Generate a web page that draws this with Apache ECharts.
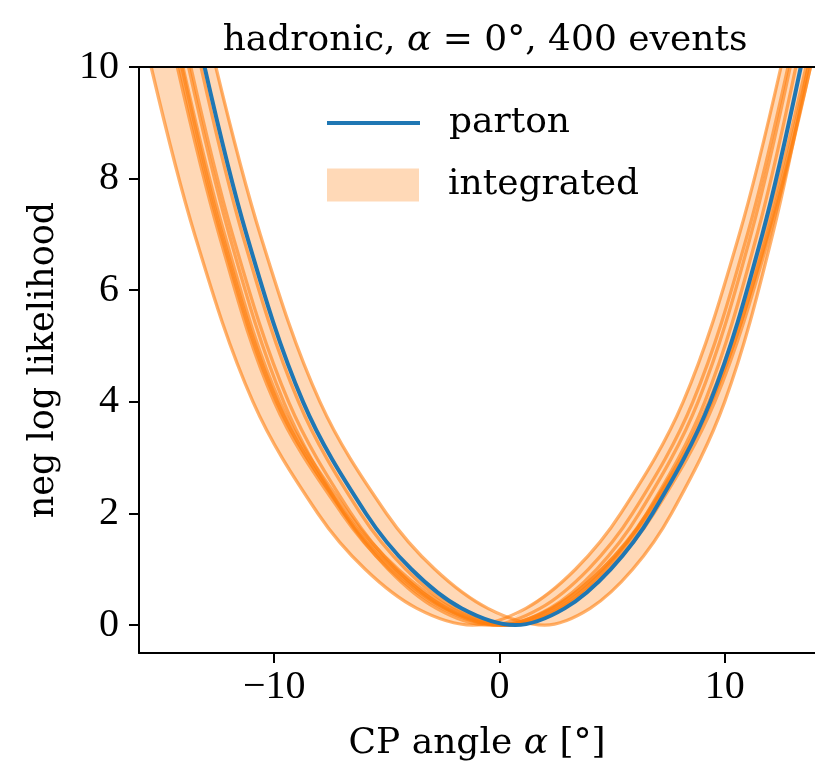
<!DOCTYPE html>
<html>
<head>
<meta charset="utf-8">
<script src="https://cdn.jsdelivr.net/npm/echarts@6/dist/echarts.min.js"></script>
<style>html,body{margin:0;padding:0;background:#fff;} #main{width:815px;height:767px;}</style>
</head>
<body>
<div id="main"></div>
<script>
var TEXT_FONT = '"DejaVu Serif", serif';
var NUM_FONT = '"Liberation Serif", "DejaVu Serif", serif';

// tick positions
var xTicks = [-10, 0, 10];
var yTicks = [0, 2, 4, 6, 8, 10];

var levels = [10, 7, 4, 2, 1, 0.3];

// parton curve
var partonLeft = [-13.09, -11.23, -8.72, -5.93, -3.91, -1.69];
var partonMin = 0.7;
var partonRight = [2.89, 4.93, 6.79, 9.35, 11.66, 13.37];

// integrated curves (one row per curve)
var curveLeft = [
    [-15.46, -13.53, -10.94, -8.06, -5.96, -3.67],
    [-12.59, -10.62, -7.97, -5.02, -2.87, -0.52],
    [-14.1, -12.3, -9.85, -6.9, -4.75, -2.44],
    [-14.2, -12.36, -9.9, -6.85, -4.65, -2.29],
    [-14.3, -12.45, -10.0, -7.0, -4.88, -2.56],
    [-14.05, -12.2, -9.75, -6.7, -4.5, -2.11],
    [-13.7, -11.85, -9.36, -6.59, -4.58, -2.37],
    [-13.25, -11.41, -8.92, -6.17, -4.16, -1.96],
    [-13.8, -12.0, -9.58, -6.9, -4.94, -2.8]
];
var curveMin = [-1.2, 2.0, 0.0, 0.2, -0.1, 0.4, 0.0, 0.4, -0.5];
var curveRight = [
    [1.17, 3.37, 5.38, 8.15, 10.64, 12.49],
    [4.02, 5.91, 7.63, 9.99, 12.12, 13.7],
    [2.35, 4.54, 6.54, 9.29, 11.76, 13.6],
    [2.54, 4.71, 6.69, 9.42, 11.88, 13.7],
    [2.3, 4.54, 6.59, 9.39, 11.92, 13.8],
    [2.72, 4.88, 6.85, 9.55, 11.99, 13.8],
    [2.23, 4.31, 6.2, 8.81, 11.16, 12.9],
    [2.61, 4.66, 6.53, 9.11, 11.43, 13.15],
    [1.8, 3.94, 5.9, 8.58, 11.0, 12.8]
];

// band edges (max / min of the integrated curves)
var bandUpper = [[-16.5, 15], [-13.9, 12], [-12.59, 10], [-10.62, 7], [-7.97, 4], [-5.02, 2], [-2.87, 1], [-0.52, 0.3],
    [0.45, 0.13], [1.17, 0.3], [3.37, 1], [5.38, 2], [8.15, 4], [10.64, 7], [12.49, 10], [13.7, 12], [15, 15]];
var bandLower = [[-17.2, 12.5], [-16.4, 11.5], [-15.46, 10], [-13.53, 7], [-10.94, 4], [-8.06, 2], [-5.96, 1], [-3.67, 0.3],
    [-1.2, 0], [2.0, 0], [4.02, 0.3], [5.91, 1], [7.63, 2], [9.99, 4], [12.12, 7], [13.7, 10], [14.4, 11], [15.2, 12.2]];

function curvePoints(left, xMin, right) {
    var pts = [];
    var n = levels.length;
    for (var i = 0; i < n; i++) pts.push([left[i], levels[i]]);
    pts.push([xMin, 0]);
    for (var k = 0; k < n; k++) pts.push([right[k], levels[n - 1 - k]]);
    return pts;
}

function minusFmt(v) {
    return v < 0 ? '\u2212' + Math.abs(v) : String(v);
}

var myChart = echarts.init(document.getElementById('main'));

var series = [
    {
        name: 'integrated',
        type: 'line',
        data: bandUpper,
        smooth: 0.35,
        showSymbol: false,
        silent: true,
        z: 1,
        lineStyle: {width: 0, opacity: 0},
        itemStyle: {color: '#ffd9b7'},
        areaStyle: {color: 'rgba(255,127,14,0.3)', origin: 'start', opacity: 1}
    },
    {
        name: 'mask',
        type: 'line',
        data: bandLower,
        smooth: 0.35,
        showSymbol: false,
        silent: true,
        z: 1.5,
        lineStyle: {width: 0, opacity: 0},
        areaStyle: {color: '#ffffff', origin: 'start', opacity: 1}
    }
];

for (var c = 0; c < curveLeft.length; c++) {
    series.push({
        name: 'curve' + c,
        type: 'line',
        data: curvePoints(curveLeft[c], curveMin[c], curveRight[c]),
        smooth: 0.35,
        showSymbol: false,
        silent: true,
        z: 3,
        lineStyle: {color: 'rgba(255,127,14,0.6)', width: 3.3}
    });
}

series.push({
    name: 'parton',
    type: 'line',
    data: curvePoints(partonLeft, partonMin, partonRight),
    smooth: 0.35,
    showSymbol: false,
    silent: true,
    z: 4,
    itemStyle: {color: '#1f77b4'},
    lineStyle: {color: '#1f77b4', width: 4}
});

var option = {
    animation: false,
    backgroundColor: '#fff',
    title: {
        text: 'hadronic, {i|α} = 0°, 400 events',
        left: 480,
        top: 18,
        textAlign: 'center',
        textStyle: {
            fontFamily: TEXT_FONT, fontSize: 36, fontWeight: 'normal', color: '#000',
            rich: {i: {fontFamily: TEXT_FONT, fontSize: 36, fontStyle: 'italic', color: '#000'}}
        }
    },
    legend: [
        {
            data: [{name: 'parton', icon: 'rect'}],
            left: 322, top: 100,
            itemWidth: 93, itemHeight: 4,
            selectedMode: false,
            textStyle: {fontFamily: TEXT_FONT, fontSize: 36, color: '#000', padding: [0, 0, 0, 24]}
        },
        {
            data: [{name: 'integrated', icon: 'rect', itemStyle: {color: '#ffd9b7', opacity: 1}}],
            left: 322, top: 162,
            itemWidth: 92, itemHeight: 33,
            selectedMode: false,
            textStyle: {fontFamily: TEXT_FONT, fontSize: 36, color: '#000', padding: [0, 0, 0, 24]}
        }
    ],
    grid: {left: 139, top: 67, right: -8, bottom: 114},
    xAxis: [
        {
            type: 'value', min: -16, max: 14, position: 'bottom', z: 10,
            name: 'CP angle {i|α} [°]', nameLocation: 'middle', nameGap: 73,
            nameTextStyle: {
                fontFamily: TEXT_FONT, fontSize: 36, color: '#000',
                rich: {i: {fontFamily: TEXT_FONT, fontSize: 36, fontStyle: 'italic', color: '#000'}}
            },
            axisLine: {show: true, onZero: false, lineStyle: {color: '#000', width: 2}},
            axisTick: {show: true, customValues: xTicks, length: 10, lineStyle: {color: '#000', width: 2}},
            axisLabel: {customValues: xTicks, formatter: minusFmt, fontFamily: NUM_FONT, fontSize: 40, color: '#000', margin: 14},
            splitLine: {show: false}
        },
        {
            type: 'value', min: -16, max: 14, position: 'top', z: 10,
            axisLine: {show: true, onZero: false, lineStyle: {color: '#000', width: 2}},
            axisTick: {show: false}, axisLabel: {show: false}, splitLine: {show: false}
        }
    ],
    yAxis: {
        type: 'value', min: -0.5, max: 10, z: 10,
        name: 'neg log likelihood', nameLocation: 'middle', nameRotate: 90, nameGap: 78,
        nameTextStyle: {fontFamily: TEXT_FONT, fontSize: 35, color: '#000'},
        axisLine: {show: true, onZero: false, lineStyle: {color: '#000', width: 2}},
        axisTick: {show: true, customValues: yTicks, length: 10, lineStyle: {color: '#000', width: 2}},
        axisLabel: {customValues: yTicks, fontFamily: NUM_FONT, fontSize: 40, color: '#000', margin: 20},
        splitLine: {show: false}
    },
    series: series
};

myChart.setOption(option);
</script>
</body>
</html>
